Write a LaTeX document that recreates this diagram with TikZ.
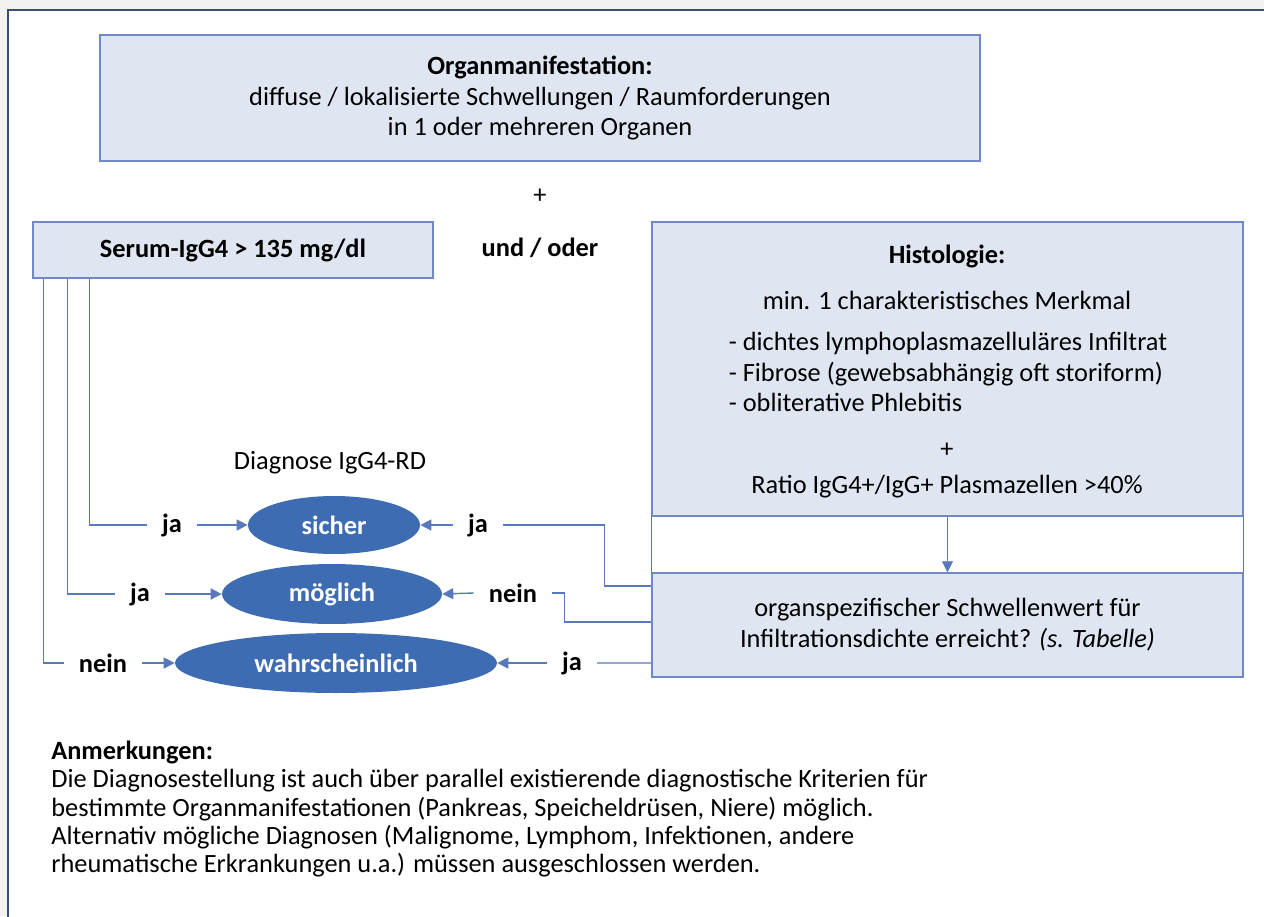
\documentclass[tikz,border=0pt]{standalone}
\usepackage{fontspec}
\setmainfont{Carlito}
\usepackage{tikz}
\usetikzlibrary{calc}
\usetikzlibrary{positioning}
\usetikzlibrary{shapes.geometric}
\usetikzlibrary {arrows.meta}
\usepackage{xcolor}
\definecolor{frame}{HTML}{3A4F6E}
\definecolor{page}{HTML}{F2F2F0}
\definecolor{boxfill}{HTML}{DFE6F2}
\definecolor{boxline}{HTML}{7089C2}
\definecolor{ellblue}{HTML}{3E6CB3}
\definecolor{linecol}{HTML}{5A79BC}

\begin{document}
\begin{tikzpicture}[
		x=0.02cm, y=-0.02cm,
		font=\fontsize{15}{17.6}\selectfont,
		b/.style = {rectangle,	draw=boxline,	fill=boxfill,	thick,	inner sep=0pt, align=center},
		e/.style = {ellipse,	fill=ellblue,	text=white,	inner sep=0pt,	font=\fontsize{15}{17.6}\selectfont\bfseries},
		t/.style = {inner sep=0pt, align=center},
		j/.style = {inner xsep=0.3cm, inner ysep=0pt, font=\fontsize{15}{17.6}\selectfont\bfseries},
		l/.style = {draw=linecol, thick},
		r/.style = {-{Triangle[length=0.22cm, width=0.22cm]}, draw=linecol, fill=linecol, thick}
		]
		
		%Frame
		\clip	(0, 0)	rectangle	(1264, 916);
		\fill[page]	(0, 0)	rectangle	(1264, 916);
		\draw[draw=frame, fill=white, line width=0.06cm]	(8, 10)	rectangle	(1300, 950);
		
		%Nodes
		\node[b, minimum width=17.6cm, minimum height=2.52cm]	(organ)	at	(540, 98)
			{\textbf{Organmanifestation:}\\ diffuse / lokalisierte Schwellungen / Raumforderungen\\ in 1 oder mehreren Organen};
		\node[t]	(plus1)	at	(540, 196)	{+};
		
		\node[b, minimum width=8cm, minimum height=1.12cm, font=\fontsize{15}{17.6}\selectfont\bfseries]	(serum)	at	(233, 250)	{Serum-IgG4 > 135 mg/dl};
		\node[t, font=\fontsize{15}{17.6}\selectfont\bfseries]	(undoder)	at	(540, 248)	{und / oder};
		
		\node[b, minimum width=11.82cm, minimum height=5.88cm]	(histo)	at	(947.5, 369)	{};
		\node[t, font=\fontsize{15}{17.6}\selectfont\bfseries]	(histt)	at	(947, 256)	{Histologie:};
		\node[t]	(merkmal)	at	(947, 300)	{min. 1 charakteristisches Merkmal};
		\node[t, align=left]	(liste)	at	(948, 372)
			{- dichtes lymphoplasmazelluläres Infiltrat\\ - Fibrose (gewebsabhängig oft storiform)\\ - obliterative Phlebitis};
		\node[t]	(plus2)	at	(947, 450)	{+};
		\node[t]	(ratio)	at	(947, 487)	{Ratio IgG4+/IgG+ Plasmazellen >40\%};
		
		\node[b, minimum width=11.82cm, minimum height=2.08cm]	(thresh)	at	(947.5, 625)
			{organspezifischer Schwellenwert für\\ Infiltrationsdichte erreicht? \textit{(s. Tabelle)}};
		
		\node[t]	(diag)	at	(330, 463)	{Diagnose IgG4-RD};
		\node[e, minimum width=3.44cm, minimum height=1.16cm]	(sicher)	at	(334, 525)	{sicher};
		\node[e, minimum width=4.4cm, minimum height=1.2cm]	(moegl)	at	(332, 594)	{möglich};
		\node[e, minimum width=6.44cm, minimum height=1.2cm]	(wahr)	at	(336, 663)	{wahrscheinlich};
		
		\node[j]	(ja1)	at	(172, 525)	{ja};
		\node[j]	(ja2)	at	(140, 594)	{ja};
		\node[j]	(nein3)	at	(103, 663)	{nein};
		\node[j]	(ja4)	at	(478, 525)	{ja};
		\node[j]	(nein5)	at	(513, 593)	{nein};
		\node[j]	(ja6)	at	(572, 663)	{ja};
		
		\node[t, anchor=north west, align=left, font=\fontsize{15}{16}\selectfont]	(notes)	at	(51, 741)
			{\textbf{Anmerkungen:}\\
			Die Diagnosestellung ist auch über parallel existierende diagnostische Kriterien für\\
			bestimmte Organmanifestationen (Pankreas, Speicheldrüsen, Niere) möglich.\\
			Alternativ mögliche Diagnosen (Malignome, Lymphom, Infektionen, andere\\
			rheumatische Erkrankungen u.a.) müssen ausgeschlossen werden.};
		
		%Lines
		\draw[l]	(histo.south west)	to	(thresh.north west);
		\draw[l]	(histo.south east)	to	(thresh.north east);
		\draw[r, thin]	(histo.south)	to	(thresh.north);
		
		\draw[l]	([xshift=1.14cm]serum.south west)	|-	(ja1.west);
		\draw[l]	([xshift=0.7cm]serum.south west)	|-	(ja2.west);
		\draw[l]	([xshift=0.22cm]serum.south west)	|-	(nein3.west);
		\draw[r]	(ja1.east)	to	(sicher.west);
		\draw[r]	(ja2.east)	to	(moegl.west);
		\draw[r]	(nein3.east)	to	(wahr.west);
		
		\draw[l]	([yshift=0.78cm]thresh.west)	--	++(-47, 0)	|-	(ja4.east);
		\draw[l]	([yshift=0.06cm]thresh.west)	--	++(-87, 0)	|-	(nein5.east);
		\draw[l]	([yshift=-0.76cm]thresh.west)	to	(ja6.east);
		\draw[r]	(ja4.west)	to	(sicher.east);
		\draw[r]	(nein5.west)	to	(moegl.east);
		\draw[r]	(ja6.west)	to	(wahr.east);
	\end{tikzpicture}
\end{document}
